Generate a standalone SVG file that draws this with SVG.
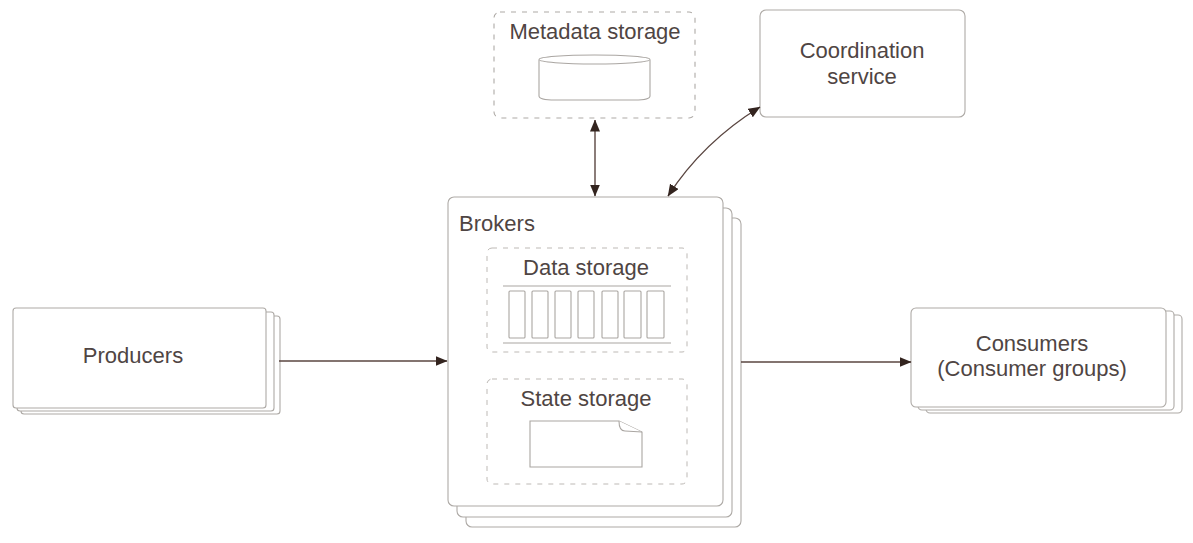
<svg xmlns="http://www.w3.org/2000/svg" width="1193" height="543" viewBox="0 0 1193 543">
<style>
text{font-family:"Liberation Sans",Arial,sans-serif;font-size:22px;fill:#4f4543;text-anchor:middle}
.b{fill:#fff;stroke:#aeaaa6;stroke-width:1.1}
.d{fill:#fff;stroke:#aeaaa6;stroke-width:1.1;stroke-dasharray:5 6}
.i{fill:#fff;stroke:#bdb9b5;stroke-width:1;stroke-dasharray:5 6}
.s{fill:#fff;stroke:#aaa6a2;stroke-width:1.1}
.c{fill:none;stroke:#5a4641;stroke-width:1.4}
</style>
<defs>
<marker id="e" viewBox="0 0 12 10" refX="11.5" refY="5" markerWidth="12" markerHeight="10" markerUnits="userSpaceOnUse" orient="auto-start-reverse"><path d="M0 0L12 5L0 10Z" fill="#33241f"/></marker>
</defs>
<rect width="1193" height="543" fill="#fff"/>
<g id="producers">
<rect class="b" x="21" y="316" width="259" height="98" rx="3"/>
<rect class="b" x="17" y="312" width="257" height="99" rx="3"/>
<rect class="b" x="13" y="308" width="253" height="100" rx="3"/>
<text x="133" y="363">Producers</text>
</g>
<g id="consumers">
<rect class="b" x="926" y="315" width="256" height="98" rx="4"/>
<rect class="b" x="918" y="311" width="256" height="99" rx="4"/>
<rect class="b" x="911" y="308" width="255" height="99" rx="5"/>
<text x="1032" y="351">Consumers</text>
<text x="1032" y="376">(Consumer groups)</text>
</g>
<g id="metadata-storage">
<rect class="d" x="494" y="12" width="201" height="106" rx="6"/>
<text x="595" y="39">Metadata storage</text>
<path class="s" d="M539 60V96Q539 100 555 100H635Q650 100 650 96V60"/>
<ellipse class="s" cx="594.500" cy="59.500" rx="55.500" ry="4.500"/>
</g>
<g id="coordination-service">
<rect class="b" x="760" y="10" width="205" height="107" rx="6"/>
<text x="862" y="58">Coordination</text>
<text x="862" y="84">service</text>
</g>
<g id="brokers">
<rect class="b" x="466" y="218" width="275" height="309" rx="6"/>
<rect class="b" x="457" y="208" width="275" height="309" rx="6"/>
<rect class="b" x="448" y="197" width="275" height="309" rx="6"/>
<text x="497" y="231">Brokers</text>
</g>
<g id="data-storage">
<rect class="i" x="487" y="248" width="200" height="104" rx="5"/>
<text x="586" y="275">Data storage</text>
<path class="s" d="M503 286H671M503 343H671"/>
<rect class="s" x="509" y="291" width="16" height="47" rx="1"/>
<rect class="s" x="532" y="291" width="16" height="47" rx="1"/>
<rect class="s" x="555" y="291" width="16" height="47" rx="1"/>
<rect class="s" x="578" y="291" width="16" height="47" rx="1"/>
<rect class="s" x="602" y="291" width="16" height="47" rx="1"/>
<rect class="s" x="624" y="291" width="17" height="47" rx="1"/>
<rect class="s" x="647" y="291" width="17" height="47" rx="1"/>
</g>
<g id="state-storage">
<rect class="i" x="487" y="379" width="200" height="105" rx="5"/>
<text x="586" y="406">State storage</text>
<path class="s" d="M530 421H619L642 432V467H530Z"/>
<path class="s" d="M619 421Q619 431 625 431L642 432"/>
</g>
<g id="connectors">
<path class="c" marker-end="url(#e)" d="M279 361H447"/>
<path class="c" marker-end="url(#e)" d="M741 362H911"/>
<path class="c" marker-start="url(#e)" marker-end="url(#e)" d="M595 120V196"/>
<path class="c" marker-start="url(#e)" marker-end="url(#e)" d="M668 196Q703 142 760 107"/>
</g>
</svg>
